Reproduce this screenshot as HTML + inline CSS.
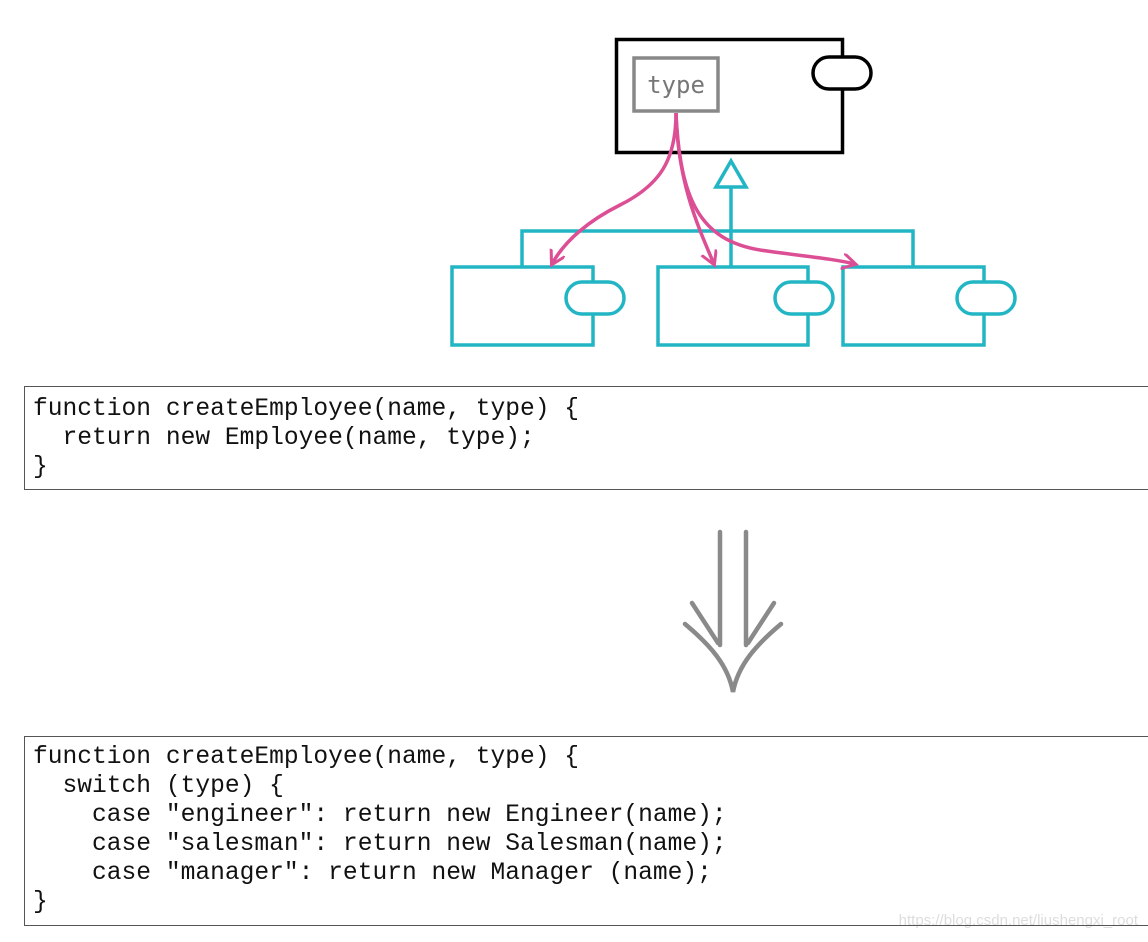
<!DOCTYPE html>
<html><head><meta charset="utf-8"><style>
html,body{margin:0;padding:0;background:#fff;}
body{width:1148px;height:942px;position:relative;overflow:hidden;}
.code{position:absolute;left:24px;width:1130px;border:1.5px solid #555;box-sizing:border-box;
font-family:"Liberation Mono",monospace;font-size:24.6px;line-height:29px;color:#111;white-space:pre;padding-left:8px;}
</style></head><body>
<svg width="1148" height="942" style="position:absolute;left:0;top:0">
<defs>
<marker id="pa" markerWidth="20" markerHeight="20" refX="13" refY="8" orient="auto" markerUnits="userSpaceOnUse">
<path d="M0,0 L14,8 L0,16" fill="none" stroke="#dc4f95" stroke-width="3"/>
</marker>
</defs>
<rect x="616.5" y="39.5" width="226" height="113" fill="none" stroke="#000" stroke-width="3.5"/>
<rect x="813" y="57" width="58" height="32" rx="16" fill="#fff" stroke="#000" stroke-width="3.5"/>
<rect x="634" y="58" width="84" height="53" fill="none" stroke="#888" stroke-width="3.5"/>
<text x="676" y="93" text-anchor="middle" font-family="DejaVu Sans Mono, monospace" font-size="24" fill="#777">type</text>
<g stroke="#22b5c4" stroke-width="3.5" fill="none">
<polyline points="522,267 522,231 913,231 913,267"/>
<line x1="731" y1="267" x2="731" y2="188"/>
<polygon points="731,161 716,187 746,187" fill="#fff"/>
<rect x="452" y="267" width="141" height="78"/>
<rect x="658" y="267" width="150" height="78"/>
<rect x="843" y="267" width="141" height="78"/>
<rect x="566" y="282" width="58" height="32" rx="16" fill="#fff"/>
<rect x="775" y="282" width="58" height="32" rx="16" fill="#fff"/>
<rect x="957" y="282" width="58" height="32" rx="16" fill="#fff"/>
</g>
<g stroke="#dc4f95" stroke-width="3.5" fill="none">
<path d="M676,113 C676,160 660,185 620,205 C590,220 565,240 552,264" marker-end="url(#pa)"/>
<path d="M676,113 C678,180 695,220 714,264" marker-end="url(#pa)"/>
<path d="M676,113 C680,200 700,240 760,250 C800,256 830,258 855,264" marker-end="url(#pa)"/>
</g>
<g stroke="#8a8a8a" stroke-width="4.5" fill="none" stroke-linecap="round">
<line x1="720" y1="532" x2="720" y2="645"/>
<line x1="746" y1="532" x2="746" y2="645"/>
<line x1="692" y1="603" x2="718" y2="643"/>
<line x1="774" y1="603" x2="748" y2="643"/>
<path d="M685,624 C710,645 728,665 733,692 C738,665 756,645 781,624"/>
</g>
<text x="1138" y="925" text-anchor="end" font-family="Liberation Sans, sans-serif" font-size="15" fill="#ddd">https://blog.csdn.net/liushengxi_root</text>
</svg>
<div class="code" style="top:386px;height:104px;padding-top:8px;">function createEmployee(name, type) {
  return new Employee(name, type);
}</div>
<div class="code" style="top:736px;height:190px;padding-top:6px;">function createEmployee(name, type) {
  switch (type) {
    case "engineer": return new Engineer(name);
    case "salesman": return new Salesman(name);
    case "manager": return new Manager (name);
}</div>
</body></html>
